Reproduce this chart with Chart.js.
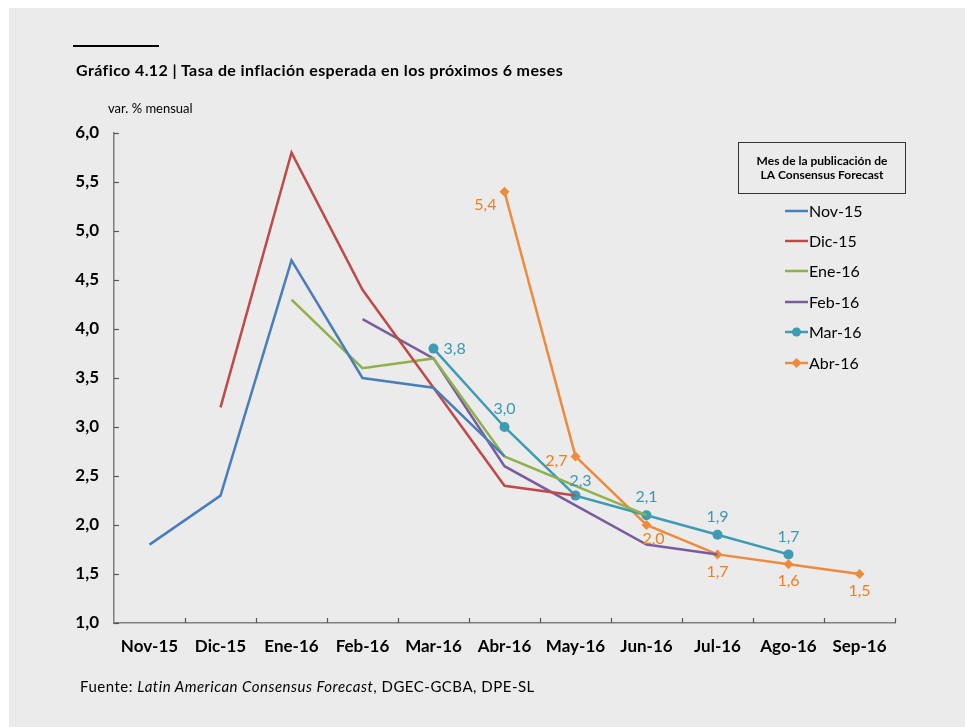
<!DOCTYPE html>
<html>
<head>
<meta charset="utf-8">
<script src="https://cdn.jsdelivr.net/npm/chart.js@4/dist/chart.umd.min.js"></script>
<style>
  html, body { margin: 0; padding: 0; background: #ffffff; }
  #wrap { position: relative; width: 965px; height: 727px; overflow: hidden; font-family: Lato, "Open Sans", sans-serif; }
  #panel { position: absolute; left: 9px; top: 8px; width: 956px; height: 719px; background: #ebebeb; }
  #c { position: absolute; left: 0; top: 0; }
  .rule { position: absolute; left: 73px; top: 45px; width: 86px; height: 2px; background: #000; }
  .title { position: absolute; left: 76px; top: 60px; font-size: 16px; letter-spacing: 0.4px; font-weight: bold; color: #000; white-space: nowrap; }
  .unit { position: absolute; left: 108px; top: 100px; font-size: 13px; color: #000; white-space: nowrap; }
  .src { position: absolute; left: 80px; top: 677px; font-size: 15px; letter-spacing: 0.5px; color: #000; white-space: nowrap; }
</style>
</head>
<body>
<div id="wrap">
  <div id="panel"></div>
  <canvas id="c" width="965" height="727"></canvas>
  <div class="rule"></div>
  <div class="title">Gráfico 4.12 | Tasa de inflación esperada en los próximos 6 meses</div>
  <div class="unit">var. % mensual</div>
  <div class="src">Fuente: <i>Latin American Consensus Forecast</i>, DGEC-GCBA, DPE-SL</div>
</div>
<script>
const categories = ['Nov-15','Dic-15','Ene-16','Feb-16','Mar-16','Abr-16','May-16','Jun-16','Jul-16','Ago-16','Sep-16'];
const seriesNames = ['Nov-15','Dic-15','Ene-16','Feb-16','Mar-16','Abr-16'];
const nov15 = [1.8, 2.3, 4.7, 3.5, 3.4, 2.7, null, null, null, null, null];
const dic15 = [null, 3.2, 5.8, 4.4, 3.4, 2.4, 2.3, null, null, null, null];
const ene16 = [null, null, 4.3, 3.6, 3.7, 2.7, 2.4, 2.1, null, null, null];
const feb16 = [null, null, null, 4.1, 3.7, 2.6, 2.2, 1.8, 1.7, null, null];
const mar16 = [null, null, null, null, 3.8, 3.0, 2.3, 2.1, 1.9, 1.7, null];
const abr16 = [null, null, null, null, null, 5.4, 2.7, 2.0, 1.7, 1.6, 1.5];
const yTicks = [1.0, 1.5, 2.0, 2.5, 3.0, 3.5, 4.0, 4.5, 5.0, 5.5, 6.0];
const legendTitle = ['Mes de la publicación de', 'LA Consensus Forecast'];

const colors = ['#4a7ebb', '#be4b48', '#8fb04a', '#7a5c9e', '#3d9bb3', '#ee8a3c'];
const labelColors = { 4: '#3a98b0', 5: '#f07d1e' };
const labelPos = {
  4: { 4: 'right', 5: 'above', 6: 'aboveR', 7: 'above', 8: 'above', 9: 'above' },
  5: { 5: 'left', 6: 'left', 7: 'belowR', 8: 'below', 9: 'below', 10: 'below' }
};

const allData = [nov15, dic15, ene16, feb16, mar16, abr16];
const fmt = v => v.toFixed(1).replace('.', ',');
const FONT = 'Lato, "Open Sans", sans-serif';

const datasets = allData.map((d, i) => ({
  label: seriesNames[i],
  data: d,
  borderColor: colors[i],
  backgroundColor: colors[i],
  borderWidth: 2.5,
  pointRadius: i >= 4 ? 5 : 0,
  pointStyle: i === 5 ? 'rectRot' : 'circle',
  pointBorderWidth: 0,
  tension: 0,
  spanGaps: false
}));

const tickMarks = {
  id: 'tickMarks',
  beforeDatasetsDraw(chart) {
    const ctx = chart.ctx, y = chart.scales.y, a = chart.chartArea;
    ctx.save();
    ctx.strokeStyle = '#555';
    ctx.lineWidth = 1.2;
    yTicks.forEach(v => {
      const py = Math.round(y.getPixelForValue(v)) + 0.5;
      ctx.beginPath(); ctx.moveTo(a.left, py); ctx.lineTo(a.left + 5, py); ctx.stroke();
    });
    const n = categories.length, w = (a.right - a.left) / n;
    for (let i = 1; i <= n; i++) {
      const px = Math.round(a.left + i * w) + 0.5;
      ctx.beginPath(); ctx.moveTo(px, a.bottom); ctx.lineTo(px, a.bottom - 5); ctx.stroke();
    }
    ctx.restore();
  }
};

const valueLabels = {
  id: 'valueLabels',
  afterDatasetsDraw(chart) {
    const ctx = chart.ctx;
    ctx.save();
    ctx.font = '16px ' + FONT;
    ctx.textBaseline = 'middle';
    [4, 5].forEach(di => {
      const meta = chart.getDatasetMeta(di);
      ctx.fillStyle = labelColors[di];
      allData[di].forEach((v, i) => {
        if (v === null) return;
        const p = meta.data[i];
        const pos = labelPos[di][i];
        let tx = p.x, ty = p.y;
        if (pos === 'right') { ctx.textAlign = 'left'; tx = p.x + 10; }
        else if (pos === 'left') { ctx.textAlign = 'right'; tx = p.x - 8; ty = p.y + 4; if (i === 5) ty = p.y + 13; }
        else if (pos === 'above') { ctx.textAlign = 'center'; ty = p.y - 18; }
        else if (pos === 'aboveR') { ctx.textAlign = 'center'; tx = p.x + 5; ty = p.y - 15; }
        else if (pos === 'below') { ctx.textAlign = 'center'; ty = p.y + 17; }
        else if (pos === 'belowR') { ctx.textAlign = 'center'; tx = p.x + 7; ty = p.y + 14; }
        ctx.fillText(fmt(v), tx, ty);
      });
    });
    ctx.restore();
  }
};

const boxLegend = {
  id: 'boxLegend',
  afterDraw(chart) {
    const ctx = chart.ctx;
    ctx.save();
    ctx.strokeStyle = '#333';
    ctx.lineWidth = 1;
    ctx.strokeRect(738.5, 142.5, 167, 51);
    ctx.fillStyle = '#000';
    ctx.font = 'bold 12px ' + FONT;
    ctx.textAlign = 'center';
    ctx.textBaseline = 'middle';
    ctx.fillText(legendTitle[0], 822, 161);
    ctx.fillText(legendTitle[1], 822, 175);
    const ys = [211, 241, 271, 302, 332, 363];
    chart.data.datasets.forEach((ds, i) => {
      const y = ys[i];
      ctx.strokeStyle = ds.borderColor;
      ctx.lineWidth = 2.5;
      ctx.beginPath(); ctx.moveTo(785, y); ctx.lineTo(808, y); ctx.stroke();
      ctx.fillStyle = ds.borderColor;
      if (i === 4) { ctx.beginPath(); ctx.arc(796.5, y, 4.5, 0, Math.PI * 2); ctx.fill(); }
      if (i === 5) {
        ctx.beginPath(); ctx.moveTo(796.5, y - 5); ctx.lineTo(801.5, y); ctx.lineTo(796.5, y + 5); ctx.lineTo(791.5, y); ctx.closePath(); ctx.fill();
      }
      ctx.fillStyle = '#000';
      ctx.font = '16px ' + FONT;
      ctx.textAlign = 'left';
      ctx.fillText(ds.label, 809, y + 1);
    });
    ctx.restore();
  }
};

new Chart(document.getElementById('c'), {
  type: 'line',
  data: { labels: categories, datasets },
  options: {
    responsive: false,
    animation: false,
    layout: { padding: { left: 0, right: 70, top: 133, bottom: 0 } },
    plugins: { legend: { display: false }, tooltip: { enabled: false }, title: { display: false } },
    scales: {
      x: {
        type: 'category',
        offset: true,
        grid: { display: false, drawTicks: false },
        border: { display: true, color: '#7f7f7f', width: 1.5 },
        ticks: { color: '#000', font: { family: FONT, size: 17, weight: 'bold' }, padding: 13, maxRotation: 0, autoSkip: false },
        afterFit(s) { s.height = 104; }
      },
      y: {
        min: 1, max: 6,
        grid: { display: false, drawTicks: false },
        border: { display: true, color: '#7f7f7f', width: 1.5 },
        afterBuildTicks(s) { s.ticks = yTicks.map(v => ({ value: v })); },
        ticks: { color: '#000', font: { family: FONT, size: 17, weight: 'bold' }, padding: 15, callback: v => fmt(v) },
        afterFit(s) { s.width = 114; }
      }
    }
  },
  plugins: [tickMarks, valueLabels, boxLegend]
});
</script>
</body>
</html>
